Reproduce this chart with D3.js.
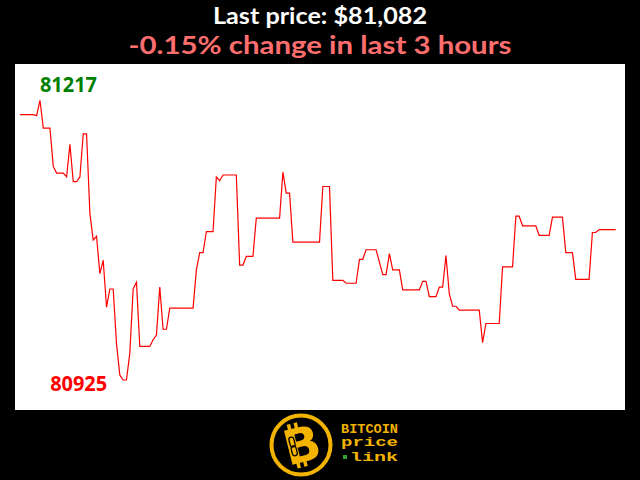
<!DOCTYPE html>
<html>
<head>
<meta charset="utf-8">
<script src="https://cdn.jsdelivr.net/npm/d3@7"></script>
<style>
  html, body { margin: 0; padding: 0; background: #000; }
  svg { display: block; }
</style>
</head>
<body>
<svg id="chart" width="640" height="480"></svg>
<script>
// ---- data (one price per minute over the last 3 hours) ----
const prices = [
  81202,81202,81202,81202,81202,81201,81217,81188,81188,81188,
  81148,81141,81141,81141,81137,81171,81132,81132,81137,81182,
  81182,81099,81071,81075,81036,81050,81001,81020,81020,80963,
  80930,80925,80925,80953,81020,81027,80960,80960,80960,80960,
  80967,80972,81022,80978,80978,81000,81000,81000,81000,81000,
  81000,81000,81000,81040,81058,81058,81080,81080,81080,81137,
  81133,81139,81139,81139,81139,81139,81045,81045,81054,81054,
  81054,81094,81094,81094,81094,81094,81094,81094,81094,81142,
  81120,81120,81069,81069,81069,81069,81069,81069,81069,81069,
  81069,81127,81127,81127,81029,81029,81029,81029,81026,81026,
  81026,81026,81051,81051,81061,81061,81061,81061,81048,81035,
  81035,81057,81040,81040,81040,81019,81019,81019,81019,81019,
  81019,81028,81028,81012,81012,81012,81022,81022,81055,81015,
  81002,81002,80998,80998,80998,80998,80998,80998,80998,80964,
  80984,80984,80984,80984,80984,81043,81043,81043,81043,81096,
  81096,81086,81086,81086,81086,81086,81076,81076,81076,81076,
  81095,81095,81095,81095,81058,81058,81058,81030,81030,81030,
  81030,81030,81079,81079,81082,81082,81082,81082,81082,81082
];
const titleLabel = "Last price: ";
const periodLabel = "change in last 3 hours";
const logoWords = ["BITCOIN", "price", "link"];

// ---- drawing ----
const svg = d3.select("#chart");
const gold = "#f2b400";

svg.append("rect").attr("x", 0).attr("y", 0).attr("width", 640).attr("height", 480).attr("fill", "#000");

const last = prices[prices.length - 1];
const first = prices[0];
const pct = (last - first) / first * 100;

svg.append("text")
  .attr("x", 320).attr("y", 24)
  .attr("text-anchor", "middle")
  .attr("font-family", "Lato, Open Sans, sans-serif")
  .attr("font-weight", 700)
  .attr("font-size", 22.5)
  .attr("fill", "#fff")
  .attr("textLength", 214).attr("lengthAdjust", "spacingAndGlyphs")
  .text(titleLabel + "$" + d3.format(",")(last));

svg.append("text")
  .attr("x", 320).attr("y", 54)
  .attr("text-anchor", "middle")
  .attr("font-family", "Lato, Open Sans, sans-serif")
  .attr("font-weight", 700)
  .attr("font-size", 25.5)
  .attr("fill", "#ff6e6e")
  .attr("textLength", 383).attr("lengthAdjust", "spacingAndGlyphs")
  .text(pct.toFixed(2) + "% " + periodLabel);

// plot area
svg.append("rect")
  .attr("x", 15).attr("y", 64).attr("width", 610).attr("height", 346)
  .attr("fill", "#fff");

const x = d3.scaleLinear().domain([0, prices.length - 1]).range([20, 615.7]);
const [minV, maxV] = d3.extent(prices);
const y = d3.scaleLinear().domain([minV, maxV]).range([380, 100.3]);

const line = d3.line().x((d, i) => x(i)).y(d => y(d));
svg.append("path")
  .datum(prices)
  .attr("d", line)
  .attr("fill", "none")
  .attr("stroke", "#ff0000")
  .attr("stroke-width", 1.2)
  .attr("stroke-linejoin", "miter");

const maxIdx = prices.indexOf(maxV);
const minIdx = prices.indexOf(minV);

svg.append("text")
  .attr("x", x(maxIdx)).attr("y", y(maxV) - 8)
  .attr("font-family", "Open Sans, sans-serif")
  .attr("font-weight", 700)
  .attr("font-size", 22)
  .attr("fill", "#008000")
  .attr("textLength", 57).attr("lengthAdjust", "spacingAndGlyphs")
  .text(String(maxV));

svg.append("text")
  .attr("x", x(minIdx) - 73).attr("y", y(minV) + 11)
  .attr("font-family", "Open Sans, sans-serif")
  .attr("font-weight", 700)
  .attr("font-size", 22)
  .attr("fill", "#ff0000")
  .attr("textLength", 57).attr("lengthAdjust", "spacingAndGlyphs")
  .text(String(minV));

// ---- logo ----
const logo = svg.append("g").attr("transform", "translate(301,445)");
logo.append("circle").attr("r", 29.5).attr("fill", "#000").attr("stroke", gold).attr("stroke-width", 4);
const bg = logo.append("g").attr("transform", "rotate(-14)");
bg.append("text")
  .attr("x", 1).attr("y", 17)
  .attr("text-anchor", "middle")
  .attr("font-family", "DejaVu Sans, sans-serif")
  .attr("font-weight", 700)
  .attr("font-size", 48)
  .attr("fill", gold)
  .text("B");
// bitcoin strokes
[-9, -2].forEach(dx => {
  bg.append("rect").attr("x", dx).attr("y", -23).attr("width", 3.5).attr("height", 6).attr("fill", gold);
  bg.append("rect").attr("x", dx).attr("y", 16).attr("width", 3.5).attr("height", 6).attr("fill", gold);
});
// chain link in the stem
bg.append("rect").attr("x", -10.5).attr("y", -10).attr("width", 5).attr("height", 10).attr("rx", 2.5)
  .attr("fill", "none").attr("stroke", "#000").attr("stroke-width", 1.3);
bg.append("rect").attr("x", -10.5).attr("y", -1).attr("width", 5).attr("height", 10).attr("rx", 2.5)
  .attr("fill", "none").attr("stroke", "#000").attr("stroke-width", 1.3);

const lx = 341, lw = 57;
const mono = "Liberation Mono, DejaVu Sans Mono, monospace";
svg.append("text").attr("x", lx).attr("y", 433)
  .attr("font-family", mono).attr("font-weight", 700)
  .attr("font-size", 12).attr("fill", gold)
  .attr("textLength", lw).attr("lengthAdjust", "spacingAndGlyphs")
  .text(logoWords[0]);
svg.append("text").attr("x", lx).attr("y", 446)
  .attr("font-family", mono).attr("font-weight", 700)
  .attr("font-size", 12).attr("fill", gold)
  .attr("textLength", lw).attr("lengthAdjust", "spacingAndGlyphs")
  .text(logoWords[1]);
svg.append("rect").attr("x", 343).attr("y", 455).attr("width", 4).attr("height", 4).attr("fill", "#2e9e2e");
svg.append("text").attr("x", lx + 9).attr("y", 461)
  .attr("font-family", mono).attr("font-weight", 700)
  .attr("font-size", 12).attr("fill", gold)
  .attr("textLength", lw - 9).attr("lengthAdjust", "spacingAndGlyphs")
  .text(logoWords[2]);
</script>
</body>
</html>
